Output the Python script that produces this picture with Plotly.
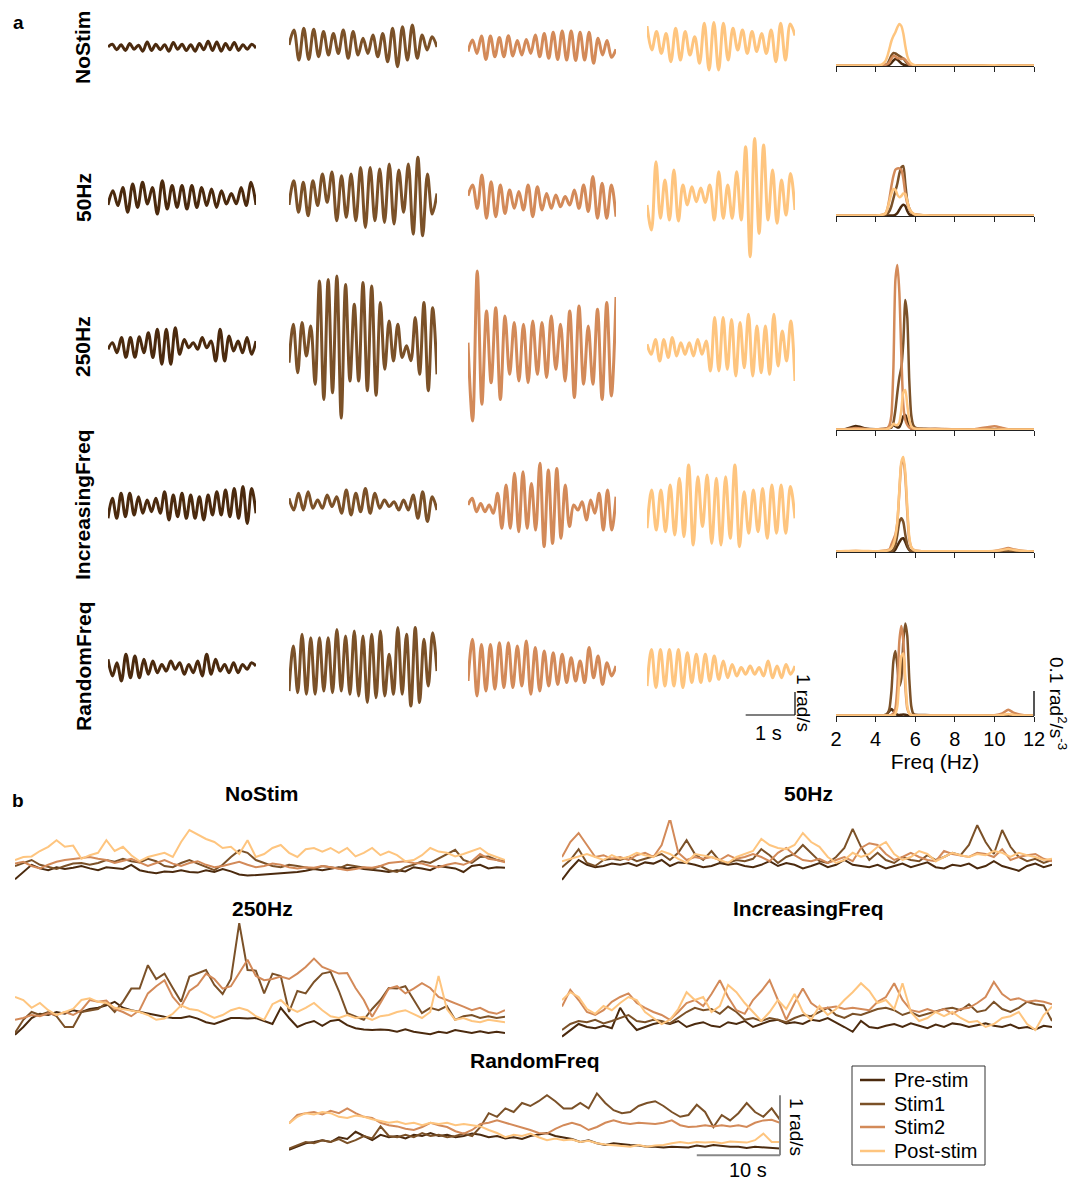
import numpy as np
import plotly.graph_objects as go

W, H = 1078, 1180
FONT = "Liberation Sans, Arial, sans-serif"

conditions = ["NoStim", "50Hz", "250Hz", "IncreasingFreq", "RandomFreq"]
phases = ["Pre-stim", "Stim1", "Stim2", "Post-stim"]
colors = {"Pre-stim": "#4b2a0e", "Stim1": "#7b5128", "Stim2": "#d38a59", "Post-stim": "#fec57f"}

# ---------------- panel a: angular velocity traces (successive extremes, rad/s) -------------
trace_seconds = 3.0
a_NoStim = {
    "Pre-stim": [0.0, 0.12, -0.12, 0.10, -0.15, 0.15, -0.10, 0.08, -0.18, 0.22, -0.15, 0.12, -0.12, 0.10, -0.18, 0.20, -0.10, 0.12, -0.15, 0.10, -0.18, 0.15, -0.12, 0.25, -0.15, 0.22, -0.18, 0.15, -0.12, 0.20, -0.15, 0.10, -0.10, 0.12, -0.05],
    "Stim1": [0.09, 0.74, -0.57, 0.81, -0.54, 0.77, -0.42, 0.67, -0.35, 0.59, -0.28, 0.74, -0.49, 0.67, -0.35, 0.38, -0.28, 0.52, -0.42, 0.59, -0.64, 0.81, -0.86, 0.88, -0.57, 0.96, -0.49, 0.52, -0.13, 0.45, 0.0],
    "Stim2": [-0.2, 0.30, -0.28, 0.48, -0.54, 0.48, -0.42, 0.41, -0.42, 0.49, -0.39, 0.28, -0.35, 0.33, -0.28, 0.52, -0.42, 0.59, -0.49, 0.64, -0.54, 0.70, -0.57, 0.70, -0.59, 0.64, -0.57, 0.64, -0.71, 0.38, -0.35, 0.28, -0.45, -0.1],
    "Post-stim": [0.91, -0.13, 0.67, -0.28, 0.59, -0.64, 0.81, -0.57, 0.67, -0.35, 0.45, -0.71, 1.03, -1.0, 1.06, -1.0, 1.03, -0.57, 0.81, -0.13, 0.74, -0.28, 0.67, -0.20, 0.59, -0.28, 0.74, -0.64, 1.03, -0.57, 1.0, 0.5],
}
a_50Hz = {
    "Pre-stim": [-0.3, 0.32, -0.33, 0.46, -0.62, 0.61, -0.41, 0.68, -0.26, 0.46, -0.70, 0.75, -0.48, 0.54, -0.41, 0.54, -0.48, 0.54, -0.41, 0.46, -0.33, 0.39, -0.41, 0.32, -0.26, 0.20, -0.25, 0.46, -0.33, 0.68, -0.30],
    "Stim1": [-0.3, 0.75, -0.62, 0.68, -0.77, 0.75, -0.33, 1.04, -0.19, 1.13, -0.99, 0.97, -0.84, 1.04, -0.99, 1.33, -1.28, 1.33, -0.99, 1.26, -1.06, 1.48, -1.13, 1.22, -0.62, 1.48, -1.57, 1.77, -1.64, 1.04, -0.70, 0.2],
    "Stim2": [0.1, 0.57, -0.45, 1.0, -0.88, 0.71, -0.81, 0.57, -0.67, 0.35, -0.45, 0.28, -0.52, 0.57, -0.81, 0.49, -0.52, 0.20, -0.45, 0.13, -0.38, 0.06, -0.30, 0.35, -0.45, 0.57, -0.59, 0.93, -0.88, 0.64, -0.88, 0.57, -0.81],
    "Post-stim": [-0.3, -1.39, 1.58, -0.88, 0.78, -0.96, 1.22, -1.0, 0.57, -0.3, 0.49, -0.16, 0.43, -0.2, 0.57, -0.96, 1.14, -0.88, 0.57, -0.88, 1.14, -0.96, 2.23, -2.55, 2.59, -1.54, 2.30, -0.96, 1.22, -1.10, 0.78, -0.74, 1.07, -0.52],
}
a_250Hz = {
    "Pre-stim": [-0.1, 0.19, -0.25, 0.41, -0.45, 0.41, -0.45, 0.45, -0.25, 0.62, -0.46, 0.77, -0.75, 0.77, -0.75, 0.84, -0.32, 0.33, -0.03, 0.19, -0.10, 0.41, -0.03, 0.26, -0.61, 0.77, -0.61, 0.48, -0.17, 0.26, -0.25, 0.41, -0.32, 0.26],
    "Stim1": [-0.68, 0.99, -1.12, 1.06, -0.39, 0.91, -1.62, 2.87, -2.28, 2.94, -1.99, 3.09, -3.09, 2.72, -1.48, 1.86, -1.48, 2.80, -1.90, 2.65, -2.10, 1.93, -0.97, 1.13, -0.61, 0.99, -0.46, 0.05, -0.6, 1.28, -1.19, 1.93, -1.90, 1.71, -1.19],
    "Stim2": [0.19, -3.22, 3.30, -2.49, 1.57, -1.55, 1.71, -2.28, 1.35, -1.19, 1.06, -1.48, 0.99, -1.55, 1.13, -1.19, 1.06, -1.33, 1.35, -0.97, 0.99, -1.48, 1.57, -2.20, 1.78, -1.62, 0.91, -1.62, 1.64, -2.28, 1.93, -2.13, 2.17],
    "Post-stim": [0.12, -0.32, 0.33, -0.61, 0.33, -0.46, 0.41, -0.39, 0.19, -0.32, 0.19, -0.39, 0.33, -0.32, 0.26, -1.04, 1.28, -1.04, 1.28, -0.97, 1.20, -1.26, 1.06, -0.90, 1.42, -1.26, 0.91, -1.12, 0.91, -1.19, 1.42, -0.83, 0.70, -0.61, 1.13, -1.48],
}
a_IncreasingFreq = {
    "Pre-stim": [-0.58, 0.29, -0.58, 0.51, -0.51, 0.51, -0.43, 0.36, -0.36, 0.22, -0.29, 0.29, -0.36, 0.58, -0.65, 0.43, -0.51, 0.51, -0.58, 0.43, -0.58, 0.36, -0.65, 0.43, -0.43, 0.58, -0.43, 0.65, -0.51, 0.72, -0.58, 0.80, -0.80, 0.72, -0.36],
    "Stim1": [0.29, -0.22, 0.51, -0.22, 0.58, -0.14, 0.22, -0.14, 0.43, -0.07, 0.36, -0.36, 0.65, -0.43, 0.51, -0.29, 0.72, -0.36, 0.51, -0.14, 0.22, -0.07, 0.14, -0.22, 0.22, -0.22, 0.43, -0.58, 0.58, -0.72, 0.36, -0.22],
    "Stim2": [0.0, 0.29, -0.29, 0.07, -0.29, 0.0, -0.36, 0.51, -1.01, 0.87, -1.01, 1.38, -1.16, 1.45, -1.01, 0.94, -1.09, 1.81, -1.81, 1.52, -1.67, 1.59, -1.45, 0.87, -0.94, 0.0, -0.22, 0.14, -0.65, 0.22, -0.36, 0.51, -1.09, 0.65, -1.09, 0.36],
    "Post-stim": [-1.01, 0.65, -1.09, 0.65, -1.16, 0.87, -1.30, 1.16, -1.38, 1.74, -1.74, 1.23, -0.94, 1.30, -1.67, 1.16, -1.74, 1.23, -1.45, 1.74, -1.81, 0.58, -1.23, 0.65, -1.16, 0.72, -1.45, 0.87, -1.23, 0.87, -1.23, 0.80, -0.58],
}
a_RandomFreq = {
    "Pre-stim": [0.29, -0.43, 0.14, -0.65, 0.51, -0.51, 0.43, -0.51, 0.29, -0.36, 0.22, -0.29, 0.07, -0.22, 0.22, -0.14, 0.14, -0.36, 0.07, -0.29, 0.22, -0.43, 0.51, -0.36, 0.29, -0.22, 0.07, -0.29, 0.14, -0.29, 0.07, -0.14, 0.14, 0.0],
    "Stim1": [-1.09, 0.87, -1.16, 1.38, -1.23, 1.23, -1.23, 1.23, -1.09, 1.23, -1.16, 1.59, -1.09, 1.30, -1.23, 1.52, -1.30, 1.30, -1.59, 1.38, -1.38, 1.52, -1.30, 0.51, -1.23, 1.67, -1.23, 1.38, -1.74, 1.67, -1.59, 1.16, -0.87, 1.45, -0.22],
    "Stim2": [-0.65, 1.16, -1.30, 0.94, -1.09, 0.94, -1.01, 1.01, -0.94, 1.01, -0.94, 0.87, -0.87, 1.09, -1.23, 0.80, -1.09, 0.65, -0.87, 0.58, -0.80, 0.51, -0.72, 0.36, -0.65, 0.22, -0.72, 0.80, -0.51, 0.43, -0.80, 0.14, -0.43, 0.0],
    "Post-stim": [-0.87, 0.72, -0.94, 0.72, -0.87, 0.72, -0.87, 0.72, -0.94, 0.58, -0.72, 0.51, -0.72, 0.51, -0.65, 0.43, -0.58, 0.22, -0.51, 0.07, -0.43, -0.07, -0.36, 0.0, -0.36, -0.07, -0.43, 0.22, -0.51, 0.0, -0.51, 0.07, -0.36, 0.0],
}
a_traces = [a_NoStim, a_50Hz, a_250Hz, a_IncreasingFreq, a_RandomFreq]

# ---------------- panel a: power spectra (rad^2/s^-3) ----------------
psd_freq = [2.0, 2.5, 3.0, 3.5, 4.0, 4.3, 4.5, 4.6, 4.7, 4.8, 4.9, 5.0, 5.1, 5.2, 5.3, 5.4, 5.5, 5.6, 5.7, 5.8, 5.9, 6.0, 6.2, 6.5, 7.0, 8.0, 9.0, 10.0, 10.4, 10.7, 11.0, 11.5, 12.0]
psd_NoStim = {
    "Pre-stim": [0.002, 0.002, 0.002, 0.002, 0.002, 0.002, 0.002, 0.003, 0.005, 0.012, 0.022, 0.028, 0.025, 0.018, 0.010, 0.006, 0.003, 0.002, 0.002, 0.002, 0.002, 0.002, 0.002, 0.002, 0.002, 0.002, 0.002, 0.002, 0.002, 0.002, 0.002, 0.002, 0.002],
    "Stim1": [0.002, 0.002, 0.002, 0.002, 0.002, 0.003, 0.005, 0.010, 0.025, 0.042, 0.052, 0.050, 0.045, 0.040, 0.035, 0.030, 0.020, 0.010, 0.005, 0.003, 0.002, 0.002, 0.002, 0.002, 0.002, 0.002, 0.002, 0.002, 0.002, 0.002, 0.002, 0.002, 0.002],
    "Stim2": [0.002, 0.002, 0.002, 0.002, 0.002, 0.003, 0.005, 0.008, 0.015, 0.030, 0.040, 0.038, 0.032, 0.030, 0.028, 0.030, 0.025, 0.015, 0.006, 0.003, 0.002, 0.002, 0.002, 0.002, 0.002, 0.002, 0.002, 0.002, 0.002, 0.002, 0.002, 0.002, 0.002],
    "Post-stim": [0.002, 0.002, 0.002, 0.002, 0.003, 0.005, 0.020, 0.040, 0.070, 0.100, 0.120, 0.135, 0.155, 0.168, 0.160, 0.130, 0.080, 0.040, 0.020, 0.010, 0.005, 0.003, 0.002, 0.002, 0.002, 0.002, 0.002, 0.003, 0.002, 0.002, 0.002, 0.002, 0.002],
}
psd_50Hz = {
    "Pre-stim": [0.002, 0.002, 0.002, 0.002, 0.002, 0.002, 0.002, 0.002, 0.002, 0.002, 0.002, 0.005, 0.012, 0.025, 0.038, 0.045, 0.040, 0.020, 0.007, 0.003, 0.002, 0.002, 0.002, 0.002, 0.002, 0.002, 0.002, 0.002, 0.002, 0.002, 0.002, 0.002, 0.002],
    "Stim1": [0.002, 0.002, 0.002, 0.002, 0.002, 0.002, 0.005, 0.010, 0.020, 0.040, 0.070, 0.100, 0.130, 0.170, 0.195, 0.200, 0.130, 0.060, 0.030, 0.015, 0.008, 0.005, 0.004, 0.003, 0.002, 0.002, 0.002, 0.002, 0.002, 0.002, 0.002, 0.002, 0.002],
    "Stim2": [0.002, 0.002, 0.002, 0.002, 0.002, 0.004, 0.010, 0.030, 0.070, 0.120, 0.160, 0.185, 0.190, 0.190, 0.185, 0.150, 0.090, 0.050, 0.030, 0.015, 0.010, 0.007, 0.004, 0.003, 0.002, 0.002, 0.002, 0.003, 0.002, 0.002, 0.002, 0.002, 0.002],
    "Post-stim": [0.002, 0.002, 0.002, 0.002, 0.002, 0.004, 0.010, 0.030, 0.060, 0.090, 0.108, 0.105, 0.085, 0.075, 0.080, 0.090, 0.088, 0.060, 0.030, 0.018, 0.010, 0.006, 0.004, 0.003, 0.002, 0.002, 0.002, 0.002, 0.002, 0.002, 0.002, 0.002, 0.002],
}
psd_250Hz = {
    "Pre-stim": [0.002, 0.004, 0.016, 0.006, 0.003, 0.003, 0.004, 0.006, 0.010, 0.016, 0.020, 0.015, 0.010, 0.012, 0.030, 0.055, 0.060, 0.040, 0.015, 0.005, 0.003, 0.002, 0.002, 0.002, 0.002, 0.002, 0.002, 0.002, 0.002, 0.002, 0.002, 0.002, 0.002],
    "Stim1": [0.002, 0.002, 0.002, 0.002, 0.003, 0.004, 0.005, 0.006, 0.008, 0.010, 0.030, 0.080, 0.150, 0.210, 0.250, 0.350, 0.520, 0.450, 0.200, 0.060, 0.020, 0.010, 0.006, 0.005, 0.004, 0.003, 0.002, 0.003, 0.002, 0.002, 0.002, 0.002, 0.002],
    "Stim2": [0.002, 0.003, 0.008, 0.004, 0.003, 0.004, 0.005, 0.008, 0.020, 0.060, 0.250, 0.600, 0.660, 0.550, 0.300, 0.100, 0.040, 0.020, 0.010, 0.006, 0.005, 0.004, 0.004, 0.004, 0.005, 0.003, 0.003, 0.015, 0.008, 0.003, 0.002, 0.002, 0.002],
    "Post-stim": [0.002, 0.002, 0.002, 0.002, 0.002, 0.002, 0.002, 0.004, 0.008, 0.015, 0.025, 0.020, 0.020, 0.030, 0.080, 0.150, 0.160, 0.100, 0.040, 0.015, 0.008, 0.005, 0.004, 0.003, 0.003, 0.002, 0.002, 0.002, 0.002, 0.002, 0.002, 0.002, 0.002],
}
psd_IncreasingFreq = {
    "Pre-stim": [0.002, 0.002, 0.002, 0.002, 0.002, 0.002, 0.002, 0.002, 0.002, 0.002, 0.002, 0.010, 0.025, 0.040, 0.052, 0.055, 0.040, 0.020, 0.008, 0.003, 0.002, 0.002, 0.002, 0.002, 0.002, 0.002, 0.002, 0.002, 0.002, 0.002, 0.002, 0.002, 0.002],
    "Stim1": [0.002, 0.002, 0.002, 0.002, 0.002, 0.002, 0.002, 0.002, 0.002, 0.002, 0.010, 0.030, 0.070, 0.120, 0.135, 0.120, 0.070, 0.030, 0.010, 0.004, 0.002, 0.002, 0.002, 0.002, 0.002, 0.002, 0.002, 0.002, 0.002, 0.002, 0.002, 0.002, 0.002],
    "Stim2": [0.002, 0.003, 0.004, 0.003, 0.003, 0.004, 0.006, 0.008, 0.010, 0.030, 0.050, 0.070, 0.120, 0.240, 0.350, 0.370, 0.300, 0.160, 0.050, 0.020, 0.010, 0.006, 0.004, 0.003, 0.003, 0.002, 0.002, 0.004, 0.010, 0.016, 0.010, 0.004, 0.002],
    "Post-stim": [0.002, 0.004, 0.005, 0.004, 0.003, 0.004, 0.005, 0.006, 0.008, 0.015, 0.030, 0.060, 0.120, 0.250, 0.360, 0.380, 0.320, 0.180, 0.060, 0.020, 0.010, 0.006, 0.004, 0.003, 0.003, 0.003, 0.003, 0.004, 0.008, 0.012, 0.008, 0.004, 0.002],
}
psd_RandomFreq = {
    "Pre-stim": [0.002, 0.002, 0.002, 0.002, 0.002, 0.002, 0.002, 0.010, 0.020, 0.028, 0.020, 0.010, 0.005, 0.004, 0.005, 0.006, 0.005, 0.003, 0.002, 0.002, 0.002, 0.002, 0.002, 0.002, 0.002, 0.002, 0.002, 0.002, 0.002, 0.002, 0.002, 0.002, 0.002],
    "Stim1": [0.002, 0.002, 0.002, 0.002, 0.002, 0.002, 0.005, 0.010, 0.030, 0.100, 0.220, 0.260, 0.200, 0.120, 0.150, 0.300, 0.370, 0.320, 0.150, 0.040, 0.010, 0.005, 0.004, 0.004, 0.003, 0.002, 0.002, 0.002, 0.002, 0.002, 0.002, 0.002, 0.002],
    "Stim2": [0.002, 0.002, 0.002, 0.002, 0.002, 0.002, 0.002, 0.002, 0.002, 0.005, 0.010, 0.030, 0.120, 0.300, 0.360, 0.300, 0.120, 0.030, 0.010, 0.004, 0.003, 0.003, 0.003, 0.003, 0.003, 0.003, 0.003, 0.003, 0.010, 0.025, 0.012, 0.003, 0.002],
    "Post-stim": [0.002, 0.002, 0.002, 0.002, 0.002, 0.002, 0.002, 0.002, 0.002, 0.002, 0.002, 0.010, 0.040, 0.150, 0.240, 0.250, 0.150, 0.040, 0.010, 0.004, 0.002, 0.002, 0.002, 0.002, 0.002, 0.002, 0.002, 0.002, 0.004, 0.008, 0.004, 0.002, 0.002],
}
psd_all = [psd_NoStim, psd_50Hz, psd_250Hz, psd_IncreasingFreq, psd_RandomFreq]
psd_ticks = [2, 4, 6, 8, 10, 12]

# ---------------- panel b: tremor amplitude over time (rad/s, 1 s bins) ----------------
b_NoStim = {
    "Pre-stim": [0.18, 0.30, 0.42, 0.36, 0.33, 0.38, 0.35, 0.37, 0.40, 0.36, 0.33, 0.38, 0.36, 0.35, 0.42, 0.33, 0.30, 0.28, 0.31, 0.30, 0.33, 0.30, 0.29, 0.33, 0.30, 0.35, 0.31, 0.26, 0.24, 0.25, 0.25, 0.26, 0.27, 0.28, 0.30, 0.32, 0.35, 0.33, 0.36, 0.38, 0.36, 0.38, 0.35, 0.34, 0.32, 0.30, 0.33, 0.31, 0.38, 0.36, 0.33, 0.40, 0.38, 0.36, 0.30, 0.40, 0.42, 0.36, 0.38, 0.37],
    "Stim1": [0.40, 0.45, 0.50, 0.42, 0.38, 0.35, 0.40, 0.44, 0.45, 0.42, 0.45, 0.50, 0.47, 0.52, 0.48, 0.46, 0.52, 0.48, 0.40, 0.38, 0.45, 0.50, 0.44, 0.38, 0.33, 0.42, 0.55, 0.66, 0.62, 0.50, 0.45, 0.40, 0.38, 0.42, 0.40, 0.37, 0.35, 0.40, 0.38, 0.36, 0.42, 0.40, 0.37, 0.35, 0.40, 0.33, 0.30, 0.38, 0.42, 0.48, 0.45, 0.52, 0.60, 0.67, 0.50, 0.45, 0.55, 0.56, 0.50, 0.48],
    "Stim2": [0.44, 0.47, 0.40, 0.36, 0.42, 0.47, 0.50, 0.52, 0.54, 0.55, 0.52, 0.50, 0.45, 0.48, 0.52, 0.46, 0.40, 0.45, 0.50, 0.44, 0.40, 0.45, 0.48, 0.42, 0.38, 0.40, 0.44, 0.47, 0.42, 0.38, 0.40, 0.44, 0.42, 0.38, 0.36, 0.38, 0.37, 0.40, 0.38, 0.36, 0.33, 0.35, 0.38, 0.37, 0.40, 0.45, 0.47, 0.48, 0.45, 0.44, 0.40, 0.38, 0.42, 0.45, 0.42, 0.48, 0.60, 0.52, 0.50, 0.46],
    "Post-stim": [0.50, 0.55, 0.56, 0.65, 0.72, 0.83, 0.72, 0.74, 0.52, 0.58, 0.62, 0.83, 0.65, 0.72, 0.58, 0.48, 0.55, 0.58, 0.62, 0.55, 0.80, 1.00, 0.92, 0.85, 0.80, 0.70, 0.72, 0.60, 0.83, 0.55, 0.60, 0.70, 0.75, 0.62, 0.55, 0.68, 0.70, 0.64, 0.70, 0.62, 0.70, 0.56, 0.62, 0.70, 0.58, 0.64, 0.58, 0.48, 0.50, 0.58, 0.70, 0.64, 0.62, 0.56, 0.60, 0.65, 0.70, 0.60, 0.55, 0.50],
}
b_50Hz = {
    "Pre-stim": [0.17, 0.35, 0.50, 0.42, 0.38, 0.40, 0.44, 0.42, 0.45, 0.40, 0.46, 0.44, 0.50, 0.40, 0.46, 0.45, 0.42, 0.38, 0.40, 0.45, 0.42, 0.44, 0.40, 0.38, 0.42, 0.48, 0.40, 0.45, 0.42, 0.36, 0.40, 0.45, 0.38, 0.42, 0.50, 0.42, 0.40, 0.38, 0.42, 0.36, 0.40, 0.44, 0.38, 0.42, 0.46, 0.38, 0.36, 0.42, 0.40, 0.44, 0.36, 0.40, 0.48, 0.40, 0.36, 0.32, 0.40, 0.44, 0.38, 0.42],
    "Stim1": [0.38, 0.50, 0.68, 0.45, 0.40, 0.50, 0.52, 0.50, 0.55, 0.48, 0.52, 0.56, 0.60, 0.50, 0.62, 0.83, 0.60, 0.50, 0.65, 0.48, 0.45, 0.50, 0.48, 0.52, 0.68, 0.58, 0.45, 0.55, 0.60, 0.75, 0.62, 0.48, 0.45, 0.55, 0.70, 1.02, 0.72, 0.50, 0.62, 0.50, 0.45, 0.55, 0.50, 0.48, 0.58, 0.50, 0.55, 0.62, 0.58, 0.75, 1.08, 0.80, 0.60, 1.00, 0.72, 0.55, 0.48, 0.52, 0.45, 0.50],
    "Stim2": [0.55, 0.80, 0.95, 0.75, 0.55, 0.58, 0.52, 0.55, 0.50, 0.58, 0.62, 0.55, 0.75, 1.19, 0.62, 0.50, 0.55, 0.52, 0.55, 0.50, 0.58, 0.52, 0.55, 0.60, 0.55, 0.48, 0.62, 0.70, 0.58, 0.50, 0.48, 0.52, 0.45, 0.50, 0.55, 0.48, 0.70, 0.78, 0.75, 0.60, 0.50, 0.55, 0.62, 0.55, 0.50, 0.48, 0.65, 0.60, 0.58, 0.55, 0.62, 0.60, 0.55, 0.68, 0.50, 0.55, 0.58, 0.60, 0.52, 0.48],
    "Post-stim": [0.48, 0.52, 0.55, 0.60, 0.55, 0.50, 0.58, 0.52, 0.55, 0.62, 0.58, 0.55, 0.65, 0.60, 0.52, 0.45, 0.60, 0.58, 0.55, 0.50, 0.45, 0.55, 0.60, 0.65, 0.85, 0.75, 0.70, 0.68, 0.75, 0.95, 0.80, 0.72, 0.55, 0.45, 0.50, 0.62, 0.55, 0.60, 0.72, 0.80, 0.60, 0.50, 0.55, 0.65, 0.60, 0.48, 0.55, 0.62, 0.58, 0.55, 0.60, 0.58, 0.65, 0.62, 0.55, 0.62, 0.58, 0.55, 0.50, 0.52],
}
b_250Hz = {
    "Pre-stim": [0.17, 0.30, 0.45, 0.52, 0.50, 0.55, 0.52, 0.58, 0.55, 0.60, 0.62, 0.66, 0.72, 0.62, 0.58, 0.55, 0.52, 0.50, 0.47, 0.45, 0.45, 0.48, 0.44, 0.38, 0.35, 0.40, 0.45, 0.45, 0.44, 0.45, 0.40, 0.35, 0.62, 0.45, 0.30, 0.36, 0.40, 0.32, 0.40, 0.42, 0.33, 0.28, 0.26, 0.25, 0.26, 0.25, 0.22, 0.26, 0.22, 0.20, 0.18, 0.22, 0.20, 0.25, 0.22, 0.20, 0.23, 0.20, 0.22, 0.20],
    "Stim1": [0.20, 0.42, 0.55, 0.50, 0.55, 0.48, 0.30, 0.30, 0.55, 0.58, 0.60, 0.70, 0.55, 0.72, 0.94, 0.94, 1.33, 1.10, 1.19, 0.95, 0.72, 1.14, 1.19, 1.25, 1.00, 0.85, 1.10, 2.03, 1.25, 1.24, 0.86, 1.19, 1.15, 0.55, 0.90, 0.86, 1.05, 1.19, 1.22, 0.90, 0.53, 0.47, 0.42, 0.60, 0.75, 0.95, 0.94, 0.98, 0.75, 0.53, 0.62, 0.58, 0.65, 0.42, 0.48, 0.50, 0.45, 0.48, 0.45, 0.47],
    "Stim2": [0.42, 0.45, 0.50, 0.48, 0.53, 0.50, 0.55, 0.50, 0.58, 0.75, 0.72, 0.74, 0.60, 0.55, 0.48, 0.58, 0.86, 0.98, 1.08, 0.80, 0.64, 0.90, 1.00, 1.19, 1.10, 0.94, 0.98, 1.20, 1.42, 1.15, 1.08, 1.10, 1.14, 1.10, 1.19, 1.30, 1.44, 1.30, 1.25, 1.19, 1.20, 0.95, 0.75, 0.47, 0.70, 0.94, 0.98, 0.86, 0.94, 1.03, 0.95, 0.80, 0.75, 0.70, 0.64, 0.58, 0.62, 0.55, 0.52, 0.58],
    "Post-stim": [0.80, 0.75, 0.62, 0.70, 0.58, 0.50, 0.55, 0.60, 0.75, 0.78, 0.72, 0.70, 0.62, 0.60, 0.58, 0.55, 0.50, 0.42, 0.44, 0.52, 0.66, 0.60, 0.58, 0.52, 0.45, 0.50, 0.58, 0.62, 0.58, 0.48, 0.42, 0.68, 0.75, 0.62, 0.55, 0.62, 0.70, 0.58, 0.48, 0.45, 0.50, 0.45, 0.47, 0.42, 0.48, 0.50, 0.55, 0.58, 0.52, 0.45, 0.55, 1.15, 0.60, 0.42, 0.45, 0.40, 0.38, 0.42, 0.40, 0.38],
}
b_IncreasingFreq = {
    "Pre-stim": [0.14, 0.25, 0.35, 0.30, 0.28, 0.32, 0.28, 0.62, 0.40, 0.25, 0.30, 0.35, 0.38, 0.35, 0.40, 0.30, 0.35, 0.38, 0.32, 0.30, 0.38, 0.35, 0.40, 0.30, 0.35, 0.40, 0.42, 0.36, 0.38, 0.35, 0.42, 0.40, 0.45, 0.38, 0.30, 0.22, 0.40, 0.30, 0.28, 0.32, 0.35, 0.30, 0.36, 0.32, 0.28, 0.34, 0.30, 0.36, 0.34, 0.30, 0.33, 0.36, 0.32, 0.30, 0.34, 0.28, 0.30, 0.26, 0.32, 0.30],
    "Stim1": [0.25, 0.35, 0.40, 0.38, 0.42, 0.36, 0.40, 0.45, 0.50, 0.40, 0.38, 0.42, 0.40, 0.36, 0.45, 0.55, 0.62, 0.58, 0.60, 0.52, 0.64, 0.55, 0.42, 0.45, 0.40, 0.45, 0.42, 0.38, 0.45, 0.50, 0.48, 0.55, 0.62, 0.50, 0.45, 0.52, 0.50, 0.55, 0.60, 0.62, 0.58, 0.50, 0.55, 0.48, 0.52, 0.55, 0.60, 0.62, 0.58, 0.68, 0.55, 0.58, 0.72, 0.60, 0.55, 0.62, 0.72, 0.68, 0.66, 0.40],
    "Stim2": [0.64, 0.92, 0.75, 0.55, 0.50, 0.58, 0.72, 0.80, 0.86, 0.70, 0.62, 0.55, 0.50, 0.42, 0.55, 0.70, 0.75, 0.65, 0.85, 1.08, 0.80, 0.58, 0.52, 0.75, 0.90, 1.08, 0.75, 0.42, 0.70, 0.94, 0.70, 0.60, 0.62, 0.64, 0.60, 0.62, 0.60, 0.58, 0.72, 0.80, 1.03, 0.75, 0.58, 0.55, 0.60, 0.55, 0.60, 0.52, 0.60, 0.62, 0.70, 0.80, 1.05, 0.85, 0.75, 0.78, 0.72, 0.74, 0.72, 0.68],
    "Post-stim": [0.75, 0.88, 0.80, 0.60, 0.52, 0.65, 0.58, 0.70, 0.80, 0.75, 0.55, 0.45, 0.35, 0.42, 0.60, 0.88, 0.75, 0.80, 0.55, 0.65, 1.00, 0.88, 0.70, 0.55, 0.40, 0.55, 0.75, 0.60, 0.85, 0.55, 0.42, 0.65, 0.50, 0.60, 0.75, 0.88, 1.03, 0.90, 0.70, 0.75, 0.60, 1.03, 0.55, 0.40, 0.45, 0.55, 0.48, 0.55, 0.45, 0.38, 0.40, 0.30, 0.35, 0.45, 0.48, 0.55, 0.35, 0.25, 0.50, 0.64],
}
b_RandomFreq = {
    "Pre-stim": [0.17, 0.22, 0.28, 0.30, 0.33, 0.30, 0.38, 0.35, 0.47, 0.40, 0.33, 0.42, 0.38, 0.40, 0.36, 0.42, 0.40, 0.45, 0.40, 0.42, 0.38, 0.40, 0.44, 0.42, 0.38, 0.40, 0.36, 0.38, 0.35, 0.40, 0.42, 0.45, 0.40, 0.38, 0.35, 0.30, 0.33, 0.28, 0.25, 0.28, 0.26, 0.25, 0.24, 0.22, 0.22, 0.21, 0.22, 0.22, 0.21, 0.24, 0.22, 0.25, 0.23, 0.22, 0.22, 0.20, 0.22, 0.21, 0.20, 0.19],
    "Stim1": [0.19, 0.25, 0.30, 0.28, 0.33, 0.30, 0.35, 0.28, 0.33, 0.40, 0.36, 0.56, 0.40, 0.38, 0.42, 0.38, 0.45, 0.40, 0.42, 0.38, 0.40, 0.44, 0.40, 0.55, 0.78, 0.72, 0.86, 0.80, 0.95, 0.90, 0.98, 1.08, 0.98, 0.86, 0.86, 0.95, 0.86, 1.11, 0.95, 0.83, 0.78, 0.80, 0.90, 0.95, 0.98, 0.90, 0.80, 0.72, 0.75, 0.92, 0.80, 0.55, 0.75, 0.66, 0.78, 0.95, 0.80, 0.72, 0.86, 0.67],
    "Stim2": [0.61, 0.75, 0.78, 0.80, 0.76, 0.82, 0.78, 0.86, 0.78, 0.72, 0.70, 0.62, 0.58, 0.56, 0.52, 0.50, 0.55, 0.62, 0.58, 0.55, 0.48, 0.44, 0.50, 0.60, 0.62, 0.66, 0.62, 0.58, 0.55, 0.50, 0.45, 0.44, 0.52, 0.58, 0.62, 0.58, 0.50, 0.55, 0.62, 0.66, 0.62, 0.60, 0.62, 0.61, 0.60, 0.62, 0.66, 0.58, 0.55, 0.56, 0.58, 0.56, 0.58, 0.56, 0.58, 0.55, 0.62, 0.66, 0.67, 0.62],
    "Post-stim": [0.61, 0.72, 0.78, 0.76, 0.80, 0.78, 0.72, 0.70, 0.74, 0.72, 0.68, 0.65, 0.62, 0.64, 0.60, 0.62, 0.58, 0.62, 0.60, 0.62, 0.58, 0.60, 0.58, 0.56, 0.50, 0.45, 0.38, 0.42, 0.40, 0.44, 0.38, 0.33, 0.36, 0.33, 0.34, 0.30, 0.32, 0.28, 0.26, 0.25, 0.24, 0.22, 0.25, 0.22, 0.24, 0.25, 0.28, 0.30, 0.28, 0.30, 0.29, 0.30, 0.28, 0.31, 0.30, 0.29, 0.33, 0.44, 0.30, 0.30],
}
b_all = [b_NoStim, b_50Hz, b_250Hz, b_IncreasingFreq, b_RandomFreq]

# ---------------- layout geometry (pixels) ----------------
PX_PER_RAD_A = 23.0
a_cols = [(108, 256), (289, 437), (468, 616), (647, 795)]
a_rows = [(47, 90), (198, 150), (347, 170), (505, 120), (666, 110)]  # centre, height
psd_x = (836, 1034)
psd_rows = [(66, 60), (216, 100), (430, 180), (552, 110), (716, 110)]  # baseline, height
PX_PER_PSD = 250.0
b_boxes = [((15, 505), 890, 70), ((562, 1052), 890, 70), ((15, 505), 1045, 130),
           ((562, 1052), 1045, 130), ((289, 780), 1160, 75)]  # x-span, zero line, height
PX_PER_RAD_B = 60.0
b_titles = [(262, 793), (808, 793), (262, 908), (808, 908), (535, 1060)]
legend_box = (852, 1066, 985, 1165)
legend_rows = [1080, 1104, 1127, 1151]

fig = go.Figure()
axis_n = [0]
layout_axes = {}


def new_axes(xpx, ypx, xrange, yrange, xopts=None, yopts=None):
    axis_n[0] += 1
    n = axis_n[0]
    sfx = "" if n == 1 else str(n)
    xd = [max(0, xpx[0] / W), min(1, xpx[1] / W)]
    yd = [max(0, 1 - ypx[1] / H), min(1, 1 - ypx[0] / H)]
    xa = dict(domain=xd, range=xrange, anchor="y" + sfx, visible=False, fixedrange=True, automargin=False)
    ya = dict(domain=yd, range=yrange, anchor="x" + sfx, visible=False, fixedrange=True, automargin=False)
    if xopts:
        xa.update(xopts)
    if yopts:
        ya.update(yopts)
    layout_axes["xaxis" + sfx] = xa
    layout_axes["yaxis" + sfx] = ya
    return "x" + sfx, "y" + sfx


def to_paper(xpx_span, xrange, ypx_span, yrange, xv, yv):
    px = xpx_span[0] + (xv - xrange[0]) / (xrange[1] - xrange[0]) * (xpx_span[1] - xpx_span[0])
    py = ypx_span[1] - (yv - yrange[0]) / (yrange[1] - yrange[0]) * (ypx_span[1] - ypx_span[0])
    return px / W, 1 - py / H


shapes = []
annotations = []


def add_text(text, xpx, ypx, size=20, angle=0, bold=False, xanchor="center"):
    annotations.append(dict(text=("<b>%s</b>" % text) if bold else text, x=xpx / W, y=1 - ypx / H,
                            xref="paper", yref="paper", showarrow=False, textangle=angle,
                            font=dict(size=size, color="black"), xanchor=xanchor, yanchor="middle"))


def pline(x0, y0, x1, y1, color, width):
    shapes.append(dict(type="line", xref="paper", yref="paper", x0=x0 / W, y0=1 - y0 / H,
                       x1=x1 / W, y1=1 - y1 / H, line=dict(color=color, width=width)))


# panel a traces
for r, cond in enumerate(conditions):
    cy, h = a_rows[r]
    half = h / 2 / PX_PER_RAD_A
    for c, ph in enumerate(phases):
        xr, yr = new_axes(a_cols[c], (cy - h / 2, cy + h / 2), [0, trace_seconds], [-half, half])
        vals = a_traces[r][ph]
        t = np.linspace(0, trace_seconds, len(vals))
        fig.add_trace(go.Scatter(x=t, y=vals, mode="lines", xaxis=xr, yaxis=yr,
                                 line=dict(color=colors[ph], width=3, shape="spline", smoothing=1.0),
                                 showlegend=False, hoverinfo="skip"))
        if r == 4 and c == 3:
            ypx = (cy - h / 2, cy + h / 2)
            p0 = to_paper(a_cols[c], [0, trace_seconds], ypx, [-half, half], 2.0, -2.13)
            p1 = to_paper(a_cols[c], [0, trace_seconds], ypx, [-half, half], 3.0, -2.13)
            p2 = to_paper(a_cols[c], [0, trace_seconds], ypx, [-half, half], 3.0, -1.13)
            for (u0, u1) in [(p0, p1), (p1, p2)]:
                shapes.append(dict(type="line", xref="paper", yref="paper", x0=u0[0], y0=u0[1],
                                   x1=u1[0], y1=u1[1], line=dict(color="black", width=1.2)))
    add_text(cond, 83, cy, size=21, angle=-90, bold=True)

# panel a spectra
for r, cond in enumerate(conditions):
    base, h = psd_rows[r]
    last = r == len(conditions) - 1
    xopts = dict(visible=True, showline=True, linecolor="#222", linewidth=1, ticks="outside", ticklen=5,
                 tickwidth=1, tickcolor="#222", tickvals=psd_ticks, showgrid=False, zeroline=False,
                 showticklabels=last, tickfont=dict(size=20, color="black"))
    if last:
        xopts["title"] = dict(text="Freq (Hz)", font=dict(size=21, color="black"), standoff=2)
    yrng = [0, h / PX_PER_PSD]
    xr, yr = new_axes(psd_x, (base - h, base), [2, 12], yrng, xopts=xopts)
    for ph in phases:
        fig.add_trace(go.Scatter(x=psd_freq, y=psd_all[r][ph], mode="lines", xaxis=xr, yaxis=yr,
                                 line=dict(color=colors[ph], width=2.5, shape="spline", smoothing=0.6),
                                 showlegend=False, hoverinfo="skip"))
    if last:
        q0 = to_paper(psd_x, [2, 12], (base - h, base), yrng, 12, 0.0)
        q1 = to_paper(psd_x, [2, 12], (base - h, base), yrng, 12, 0.1)
        shapes.append(dict(type="line", xref="paper", yref="paper", x0=q0[0], y0=q0[1],
                           x1=q1[0], y1=q1[1], line=dict(color="#555", width=2)))

# panel b
for k, cond in enumerate(conditions):
    xspan, zero_px, h = b_boxes[k]
    yrng = [0, h / PX_PER_RAD_B]
    n = len(b_all[k]["Pre-stim"])
    xrng = [0, n - 1]
    xr, yr = new_axes(xspan, (zero_px - h, zero_px), xrng, yrng)
    for ph in phases:
        vals = b_all[k][ph]
        fig.add_trace(go.Scatter(x=np.arange(len(vals)), y=vals, mode="lines", xaxis=xr, yaxis=yr,
                                 line=dict(color=colors[ph], width=2), name=ph,
                                 showlegend=False, hoverinfo="skip"))
    tx, ty = b_titles[k]
    add_text(cond, tx, ty, size=21, bold=True)
    if k == len(conditions) - 1:
        ypx = (zero_px - h, zero_px)
        s0 = to_paper(xspan, xrng, ypx, yrng, xrng[1] - 10, 0.08)
        s1 = to_paper(xspan, xrng, ypx, yrng, xrng[1], 0.08)
        s2 = to_paper(xspan, xrng, ypx, yrng, xrng[1], 1.08)
        for (u0, u1) in [(s0, s1), (s1, s2)]:
            shapes.append(dict(type="line", xref="paper", yref="paper", x0=u0[0], y0=u0[1],
                               x1=u1[0], y1=u1[1], line=dict(color="#888", width=2)))

# legend (drawn box)
lx0, ly0, lx1, ly1 = legend_box
shapes.append(dict(type="rect", xref="paper", yref="paper", x0=lx0 / W, y0=1 - ly0 / H, x1=lx1 / W,
                   y1=1 - ly1 / H, line=dict(color="#333", width=1), fillcolor="white", layer="above"))
for ph, ry in zip(phases, legend_rows):
    pline(lx0 + 8, ry, lx0 + 33, ry, colors[ph], 2.5)
    add_text(ph, lx0 + 40, ry, size=20, xanchor="left")

# scale-bar labels and panel letters
add_text("1 s", 768, 733)
add_text("1 rad/s", 804, 703, size=19, angle=90)
add_text("0.1 rad<sup>2</sup>/s<sup>-3</sup>", 1058, 703, size=19, angle=90)
add_text("10 s", 748, 1170)
add_text("1 rad/s", 797, 1127, size=19, angle=90)
add_text("a", 18, 22, size=19, bold=True)
add_text("b", 18, 800, size=19, bold=True)

fig.update_layout(**layout_axes)
fig.update_layout(
    template="none",
    width=W, height=H, margin=dict(l=0, r=0, t=0, b=0, pad=0, autoexpand=False),
    paper_bgcolor="white", plot_bgcolor="rgba(0,0,0,0)",
    font=dict(family=FONT, color="black"),
    shapes=shapes, annotations=annotations, showlegend=False,
)

fig.write_html("out.html", config={"displayModeBar": False},
               post_script="document.body.style.margin='0';document.body.style.overflow='hidden';")
